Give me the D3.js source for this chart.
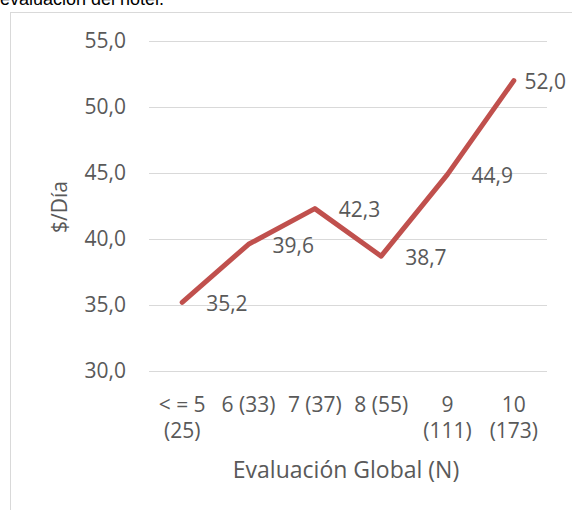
<!doctype html>
<html>

<head>
    <meta charset="utf-8">
    <title>Evaluación Global - $/Día</title>
    <script src="https://d3js.org/d3.v7.min.js"></script>
    <style>
        body {
            margin: 0;
            background: #fff;
        }

        svg text {
            font-family: 'Open Sans', sans-serif;
            fill: #595959;
        }

        .caption {
            font-family: 'Liberation Sans', Arial, sans-serif !important;
            fill: #000 !important;
        }
    </style>
</head>

<body>
    <div id="my_dataviz"></div>

    <script>
        // data
        var categories = ["< = 5 (25)", "6 (33)", "7 (37)", "8 (55)", "9 (111)", "10 (173)"];
        var tickLines = [["< = 5", "(25)"], ["6 (33)"], ["7 (37)"], ["8 (55)"], ["9", "(111)"], ["10", "(173)"]];
        var values = [35.2, 39.6, 42.3, 38.7, 44.9, 52.0];
        var yTicks = [30, 35, 40, 45, 50, 55];

        var width = 572,
            height = 510;

        var svg = d3.select("#my_dataviz")
            .append("svg")
            .attr("width", width)
            .attr("height", height);

        // caption cut off at the top of the picture
        svg.append("text")
            .attr("class", "caption")
            .attr("x", 0)
            .attr("y", 5)
            .style("font-size", "18px")
            .text("evaluación del hotel.");

        // chart frame
        svg.append("rect")
            .attr("x", 10.5)
            .attr("y", 12.5)
            .attr("width", 600)
            .attr("height", 520)
            .attr("fill", "none")
            .attr("stroke", "#d9d9d9");

        var x = d3.scaleBand()
            .domain(categories)
            .range([149, 547]);

        var y = d3.scaleLinear()
            .domain([30, 55])
            .range([371, 41]);

        // gridlines
        svg.append("g")
            .selectAll("line")
            .data(yTicks)
            .enter()
            .append("line")
            .attr("x1", x.range()[0])
            .attr("x2", x.range()[1])
            .attr("y1", function (d) { return Math.round(y(d)) + 0.5; })
            .attr("y2", function (d) { return Math.round(y(d)) + 0.5; })
            .attr("stroke", "#d9d9d9")
            .attr("stroke-width", 1);

        // y axis labels
        var yAxis = svg.append("g")
            .attr("transform", "translate(133,0)")
            .call(d3.axisLeft(y).tickValues(yTicks).tickSize(0).tickPadding(7)
                .tickFormat(function (d) { return d.toFixed(1).replace(".", ","); }));
        yAxis.select(".domain").remove();
        yAxis.selectAll("text")
            .style("font-size", "21px")
            .attr("fill", "#595959");

        // x axis labels (wrapped like the original)
        var xAxis = svg.append("g")
            .attr("transform", "translate(0,378)")
            .call(d3.axisBottom(x).tickSize(0).tickFormat(""));
        xAxis.select(".domain").remove();
        xAxis.selectAll(".tick").each(function (d, i) {
            var t = d3.select(this).append("text")
                .attr("text-anchor", "middle")
                .style("font-size", "21px");
            tickLines[i].forEach(function (s, j) {
                t.append("tspan")
                    .attr("x", 0)
                    .attr("y", 34 + j * 26)
                    .text(s);
            });
        });

        // axis titles
        svg.append("text")
            .attr("x", 346)
            .attr("y", 478)
            .attr("text-anchor", "middle")
            .style("font-size", "23px")
            .text("Evaluación Global (N)");

        svg.append("text")
            .attr("transform", "translate(67,207) rotate(-90)")
            .attr("text-anchor", "middle")
            .style("font-size", "21px")
            .text("$/Día");

        // the line
        var cx = function (d, i) { return x(categories[i]) + x.bandwidth() / 2; };
        svg.append("path")
            .datum(values)
            .attr("d", d3.line()
                .x(cx)
                .y(function (d) { return y(d); }))
            .attr("fill", "none")
            .attr("stroke", "#C0504D")
            .attr("stroke-width", 5)
            .attr("stroke-linejoin", "round")
            .attr("stroke-linecap", "round");

        // data labels to the right of each point, kept inside the frame
        svg.append("g")
            .selectAll("text")
            .data(values)
            .enter()
            .append("text")
            .attr("y", function (d) { return y(d) + 1; })
            .attr("dy", "0.35em")
            .style("font-size", "21px")
            .attr("fill", "#404040")
            .text(function (d) { return d.toFixed(1).replace(".", ","); })
            .attr("x", function (d, i) {
                var w = this.getComputedTextLength();
                return Math.min(cx(d, i) + 24, width - 6 - w);
            });
    </script>

</body>

</html>
